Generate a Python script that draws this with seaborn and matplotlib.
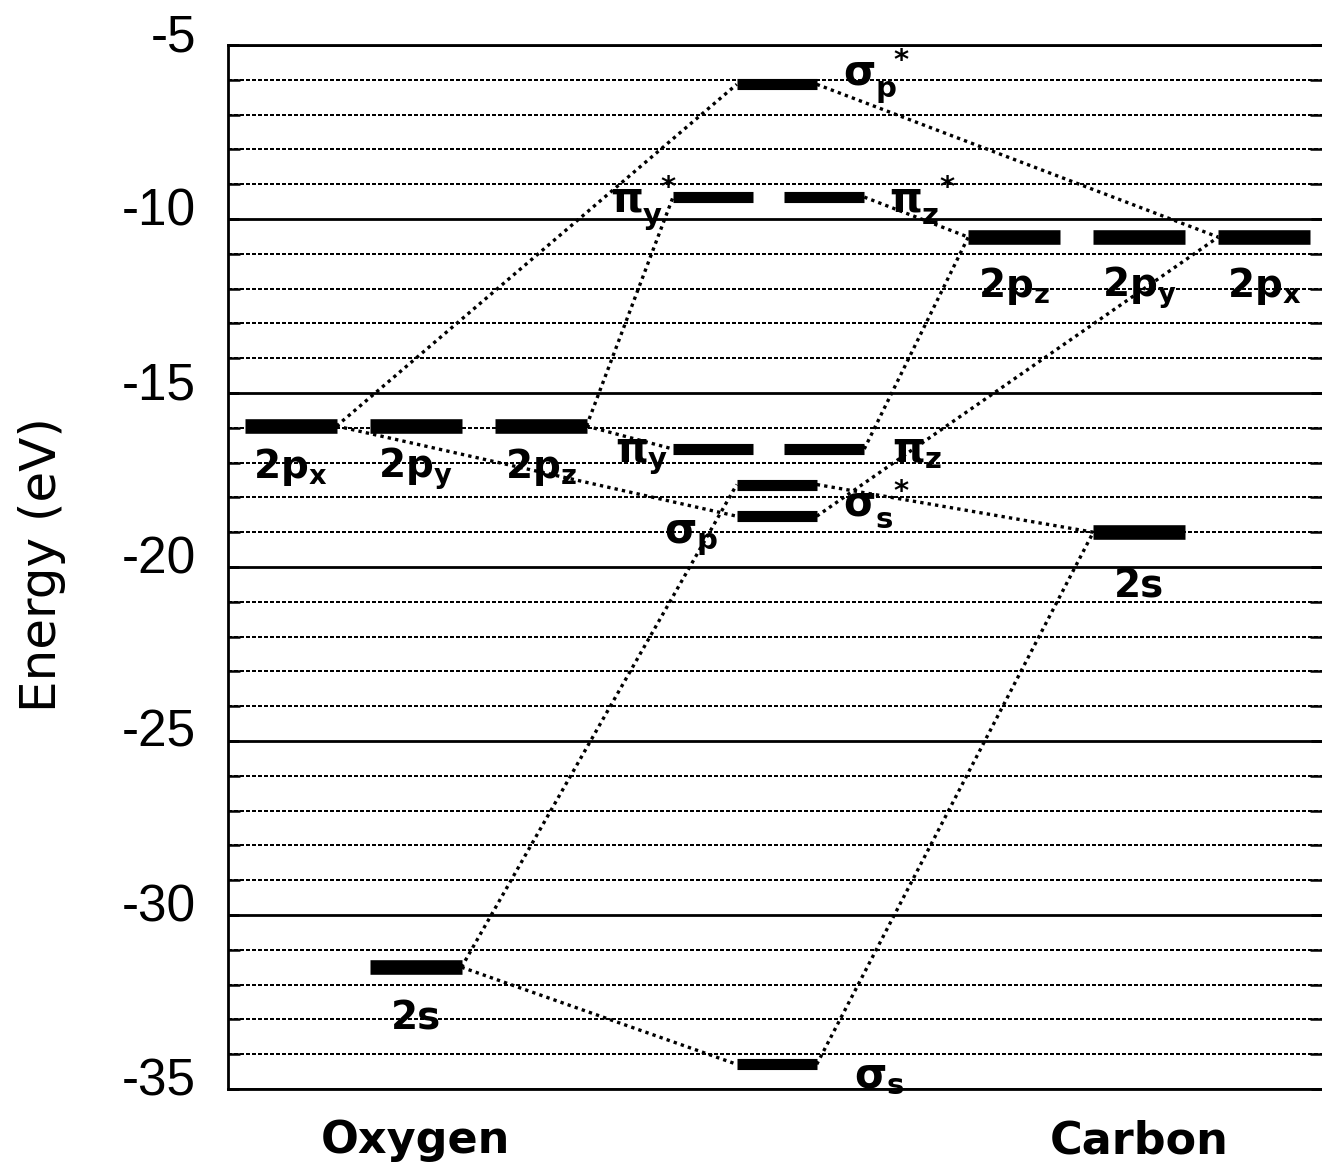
import matplotlib
matplotlib.use('Agg')
import matplotlib.pyplot as plt
import matplotlib.transforms as mtransforms
from matplotlib.ticker import MultipleLocator
import pandas as pd
import seaborn as sns

# atomic orbitals (x = column in the diagram, energies in eV)
ao_names = ['O 2px', 'O 2py', 'O 2pz', 'O 2s', 'C 2pz', 'C 2py', 'C 2px', 'C 2s']
ao_labels = ['2p$_x$', '2p$_y$', '2p$_z$', '2s', '2p$_z$', '2p$_y$', '2p$_x$', '2s']
ao_x = [0.5, 1.5, 2.5, 1.5, 6.29, 7.29, 8.29, 7.29]
ao_energy = [-15.95, -15.95, -15.95, -31.5, -10.52, -10.52, -10.52, -19.0]

# molecular orbitals of CO
mo_names = ['σs', 'σs*', 'σp', 'πy', 'πz', 'πy*', 'πz*', 'σp*']
mo_labels = [r'$\sigma_s$', r'$\sigma_s^{\ *}$', r'$\sigma_p$', r'$\pi_y$', r'$\pi_z$',
             r'$\pi_y^{\ *}$', r'$\pi_z^{\ *}$', r'$\sigma_p^{\ *}$']
mo_x = [4.39, 4.39, 4.39, 3.88, 4.77, 3.88, 4.77, 4.39]
mo_energy = [-34.29, -17.63, -18.54, -16.61, -16.61, -9.37, -9.37, -6.13]

# correlation lines: atomic orbital -> molecular orbital
links = [('O 2px', 'σp*'), ('O 2px', 'σp'), ('O 2pz', 'πy*'), ('O 2pz', 'πy'),
         ('O 2s', 'σs'), ('O 2s', 'σs*'),
         ('C 2px', 'σp*'), ('C 2px', 'σp'), ('C 2pz', 'πz*'), ('C 2pz', 'πz'),
         ('C 2s', 'σs'), ('C 2s', 'σs*')]

elements = ['Oxygen', 'Carbon']
element_x = [1.5, 7.29]

yticks = [-35, -30, -25, -20, -15, -10, -5]

# layout / style
AO_HALF = 0.368
MO_HALF = 0.32
# label offsets (dx, dy, ha, which bar end) for the MOs
mo_label_pos = {
    'σs': (0.30, -0.68, 'left', 'right'),
    'σs*': (0.21, -0.93, 'left', 'right'),
    'σp': (-0.15, -0.77, 'right', 'left'),
    'πy': (-0.04, -0.37, 'right', 'left'),
    'πz': (0.22, -0.37, 'left', 'right'),
    'πy*': (0.04, -0.43, 'right', 'left'),
    'πz*': (0.20, -0.43, 'left', 'right'),
    'σp*': (0.21, -0.03, 'left', 'right'),
}
ao_label_dy = {'O 2px': 1.49, 'O 2py': 1.49, 'O 2pz': 1.49, 'O 2s': 1.8,
               'C 2pz': 1.71, 'C 2py': 1.71, 'C 2px': 1.71, 'C 2s': 1.89}

sns.set_style('ticks')
plt.rcParams['font.family'] = ['DejaVu Sans']
plt.rcParams['axes.unicode_minus'] = False
for k in ['text.color', 'axes.labelcolor', 'xtick.color', 'ytick.color', 'axes.edgecolor']:
    plt.rcParams[k] = 'black'
plt.rcParams['mathtext.fontset'] = 'custom'
plt.rcParams['mathtext.rm'] = 'DejaVu Sans:bold'
plt.rcParams['mathtext.it'] = 'DejaVu Sans:bold'
plt.rcParams['mathtext.bf'] = 'DejaVu Sans:bold'

fig = plt.figure(figsize=(13.22, 11.65), dpi=100)
ax = fig.add_axes([228 / 1322, 76 / 1165, 8.75 * 125 / 1322, 1044 / 1165])

ao = dict(zip(ao_names, zip(ao_x, ao_energy)))
mo = dict(zip(mo_names, zip(mo_x, mo_energy)))

# energy levels as short horizontal segments
ao_df = pd.DataFrame({
    'name': ao_names * 2,
    'x': [x - AO_HALF for x in ao_x] + [x + AO_HALF for x in ao_x],
    'E': ao_energy * 2,
})
mo_df = pd.DataFrame({
    'name': mo_names * 2,
    'x': [x - MO_HALF for x in mo_x] + [x + MO_HALF for x in mo_x],
    'E': mo_energy * 2,
})

# correlation lines go from the inner end of the AO to the outer end of the MO
rows = []
for i, (a, m) in enumerate(links):
    ax_, ae = ao[a]
    mx, me = mo[m]
    side = 1 if a.startswith('O') else -1
    rows.append((i, ax_ + side * AO_HALF, ae))
    rows.append((i, mx - side * MO_HALF, me))
link_df = pd.DataFrame(rows, columns=['link', 'x', 'E'])

sns.lineplot(data=link_df, x='x', y='E', units='link', estimator=None, color='black',
             lw=2.4, linestyle=(0, (1, 1.25)), dash_capstyle='butt', legend=False,
             ax=ax, zorder=3)
sns.lineplot(data=ao_df, x='x', y='E', units='name', estimator=None, color='black',
             lw=10.5, solid_capstyle='butt', legend=False, ax=ax, zorder=4)
sns.lineplot(data=mo_df, x='x', y='E', units='name', estimator=None, color='black',
             lw=8, solid_capstyle='butt', legend=False, ax=ax, zorder=4)

for name, lab in zip(ao_names, ao_labels):
    x, e = ao[name]
    ax.text(x, e - ao_label_dy[name], lab, fontsize=28, fontweight='bold',
            ha='center', va='baseline', zorder=5)

for name, lab in zip(mo_names, mo_labels):
    x, e = mo[name]
    dx, dy, ha, end = mo_label_pos[name]
    x0 = x + MO_HALF if end == 'right' else x - MO_HALF
    ax.text(x0 + dx, e + dy, lab, fontsize=30, ha=ha, va='baseline', zorder=5)

for el, x in zip(elements, element_x):
    ax.text(x, -36.84, el, fontsize=32, fontweight='bold', ha='center', va='baseline',
            clip_on=False)

ax.set_xlim(0, 8.75)
ax.set_ylim(-35, -5)
ax.set_xticks([])
ax.set_xlabel('')
ax.set_ylabel('')
ax.set_yticks(yticks)
ax.yaxis.set_minor_locator(MultipleLocator(1))
ax.set_axisbelow(True)
ax.grid(which='major', axis='y', color='black', lw=2.0, ls='-')
ax.grid(which='minor', axis='y', color='black', lw=1.7, ls=(0, (1.4, 0.9)),
        antialiased=False)
ax.tick_params(axis='y', which='both', direction='in', left=True, right=True, color='black')
ax.tick_params(axis='y', which='major', length=8, width=2.0, pad=23, labelsize=37)
ax.tick_params(axis='y', which='minor', length=8.6, width=1.8)
for s in ['left', 'top', 'bottom']:
    ax.spines[s].set_linewidth(2.0)
    ax.spines[s].set_color('black')
ax.spines['right'].set_visible(False)

shift = mtransforms.ScaledTranslation(0, 13 / 100, fig.dpi_scale_trans)
for lab in ax.get_yticklabels():
    lab.set_fontfamily('Liberation Sans')
    lab.set_transform(lab.get_transform() + shift)

fig.text(42 / 1322, 1 - 565 / 1165, 'Energy (eV)', rotation=90, fontsize=36,
         ha='center', va='center')

fig.savefig('out.png', dpi=100)
